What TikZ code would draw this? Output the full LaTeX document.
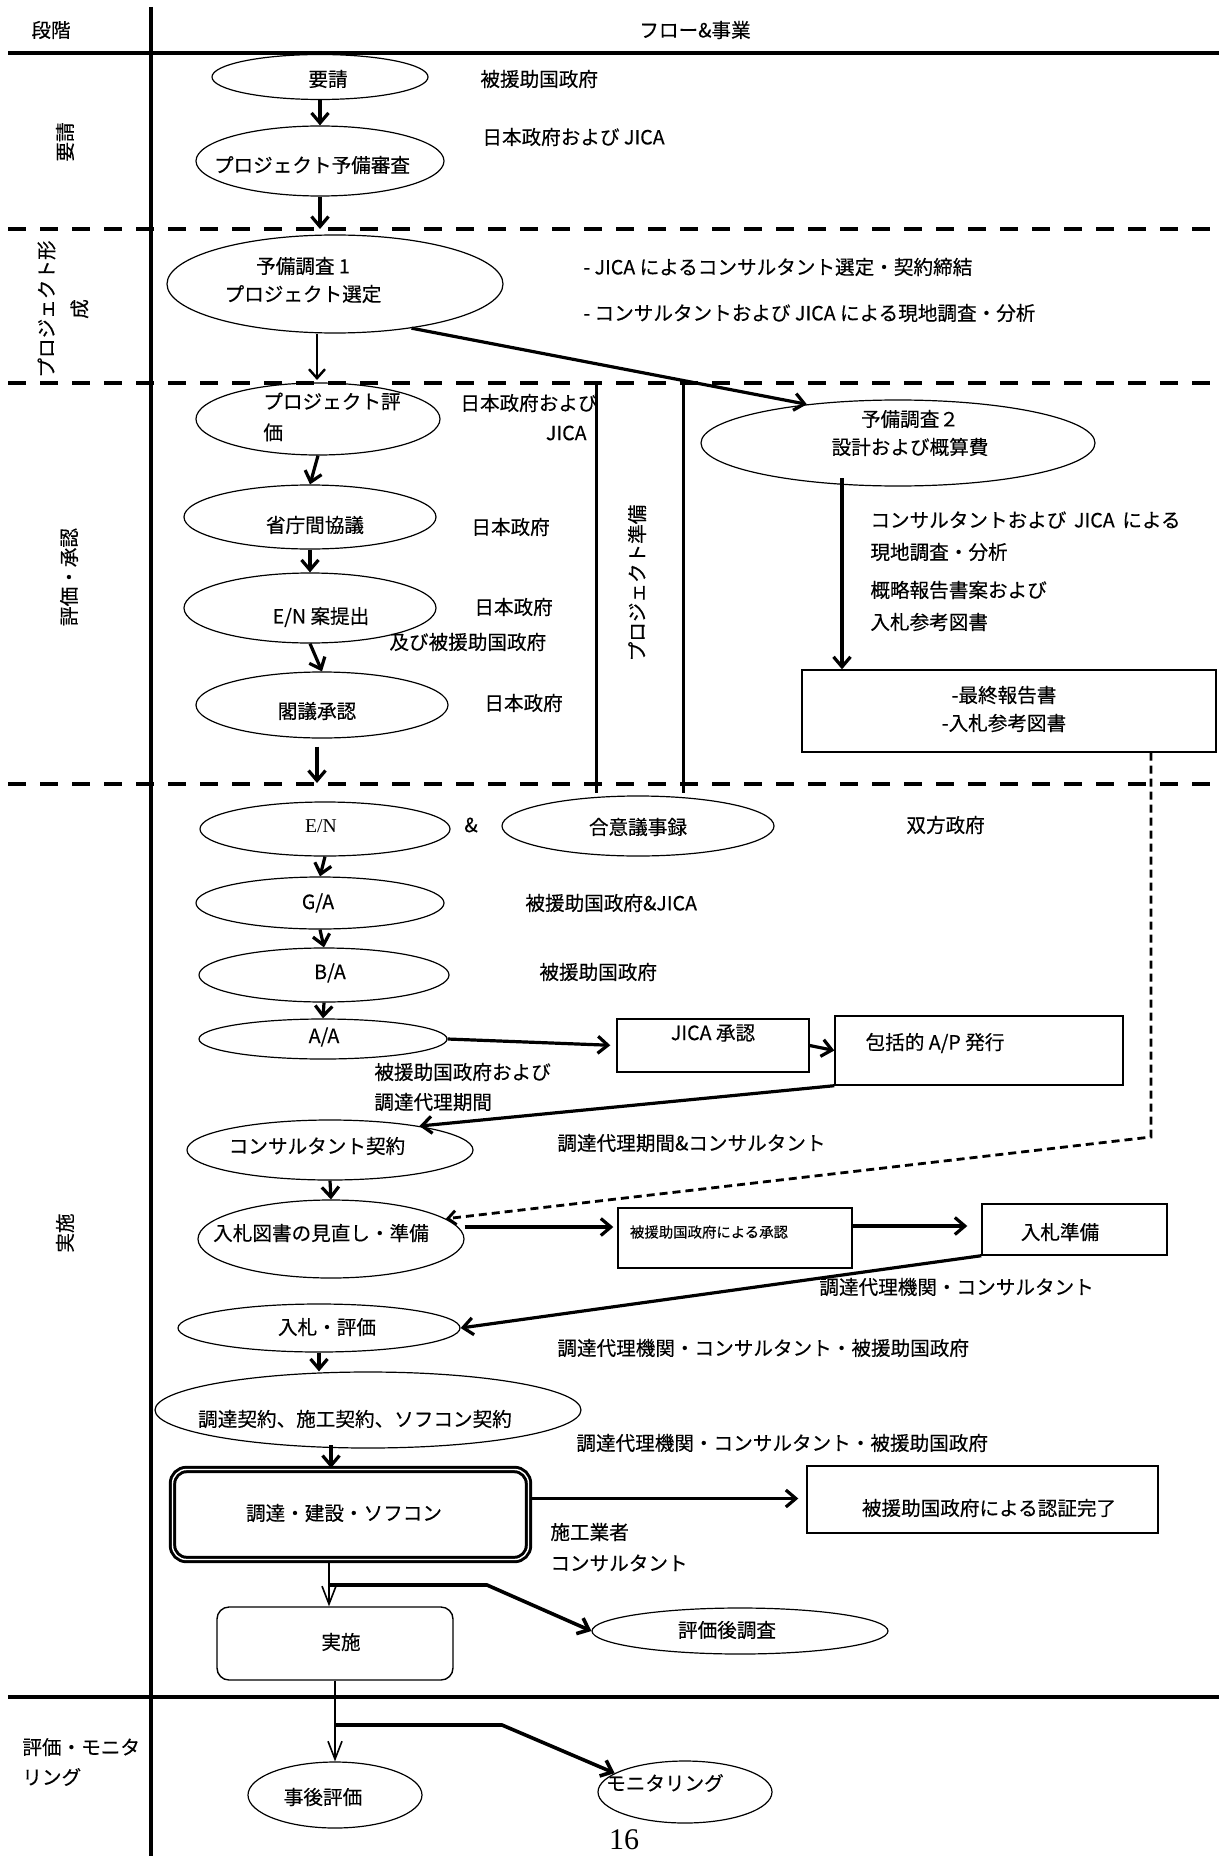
\documentclass[tikz,border=0pt]{standalone}
\usepackage{fontspec}
\setmainfont{Noto Sans CJK JP}[FakeBold=0.3]
\newfontfamily\tmsfont{Liberation Serif}
\usetikzlibrary{shapes.geometric,arrows.meta}
\newcommand{\flowell}[8]{%
  \node[ell,minimum width=#4pt,minimum height=#5pt] (#1) at (#2,#3) {};%
  \node (#1t) at (#6,#7) {#8};}
\newcommand{\flowbox}[9]{%
  \node[#9,minimum width=#4pt,minimum height=#5pt] (#1) at (#2,#3) {};%
  \node (#1t) at (#6,#7) {#8};}
\begin{document}
\begin{tikzpicture}[x=0.5pt,y=-0.5pt,
  every node/.style={font=\fontsize{9.8pt}{14pt}\selectfont, inner sep=0pt, align=center},
  ell/.style={draw, ellipse, line width=0.6pt},
  box/.style={draw, rectangle, line width=0.7pt},
  rbox/.style={draw, rectangle, rounded corners=6pt, line width=0.7pt},
  dbl/.style={draw, rectangle, rounded corners=7pt, line width=1.5pt, double, double distance=0.7pt},
  frame/.style={line width=1.6pt},
  sep/.style={line width=1.6pt, dash pattern=on 9pt off 7pt},
  band/.style={line width=1.5pt},
  arr/.style={line width=1.2pt, -{Straight Barb[length=4.5pt,width=8pt]}},
  tarr/.style={line width=1.6pt, -{Straight Barb[length=5pt,width=8.5pt]}},
  larr/.style={line width=1pt, -{Straight Barb[length=9pt,width=7pt,line width=0.8pt]}},
  tbr/.style={line width=1.8pt, -{Straight Barb[length=5pt,width=8.5pt]}},
  darr/.style={line width=1.4pt, dash pattern=on 4pt off 2.5pt, -{Straight Barb[length=4pt,width=7pt]}},
  lbl/.style={anchor=west},
  rot/.style={rotate=90}]
\useasboundingbox (0,0) rectangle (1219,1856);

% ---------- frame ----------
\coordinate (vt) at (151,7); \coordinate (vb) at (151,1856);
\draw[frame] (vt) -- (vb);
\coordinate (h0a) at (8,53); \coordinate (h0b) at (1219,53);
\draw[frame] (h0a) -- (h0b);
\coordinate (d1l) at (8,229); \coordinate (d1r) at (1219,229);
\draw[sep] (d1l) -- (d1r);
\coordinate (d2l) at (8,383); \coordinate (d2r) at (1219,383);
\draw[sep] (d2l) -- (d2r);
\coordinate (d3l) at (8,784); \coordinate (d3r) at (1219,784);
\draw[sep] (d3l) -- (d3r);
\coordinate (h4a) at (8,1697); \coordinate (h4b) at (1219,1697);
\draw[frame] (h4a) -- (h4b);

% ---------- headers and phases ----------
\node (hstage) at (51,30) {段階};
\node (hflow) at (695,30) {フロー\&事業};
\node[rot] (ph1) at (65,142) {要請};
\node[rot, font=\fontsize{9.8pt}{16.5pt}\selectfont] (ph2) at (63,309) {プロジェクト形\\成};
\node[rot] (ph3) at (69,577) {評価・承認};
\node[rot] (ph4) at (65,1233) {実施};
\node[anchor=west, align=left, font=\fontsize{9.8pt}{15pt}\selectfont] (ph5) at (22,1762) {評価・モニタ\\リング};

% ---------- request ----------
\flowell{yosei}{320}{77}{108}{22.5}{328}{79}{要請}
\flowell{shinsa}{320}{161}{124}{35}{312}{165}{プロジェクト予備審査}
\node[lbl] (l1) at (480,79) {被援助国政府};
\node[lbl] (l2) at (482,137) {日本政府および JICA};
\draw[tarr] (yosei.south) -- (shinsa.north);
\coordinate (d1a) at (320,229);
\draw[tarr] (shinsa.south) -- (d1a);

% ---------- formation ----------
\flowell{yc1}{335}{284}{168}{49}{303}{280}{予備調査 1\\プロジェクト選定}
\node[lbl] (l3) at (583,267) {- JICA によるコンサルタント選定・契約締結};
\node[lbl] (l4) at (583,313) {- コンサルタントおよび JICA による現地調査・分析};
\coordinate (d2a) at (317,380);
\draw[arr] (yc1.south -| d2a) -- (d2a);

% ---------- appraisal ----------
\flowell{yc2}{898}{443}{197}{43}{910}{433}{予備調査２\\設計および概算費}
\draw[tarr] (yc1.-30) -- (yc2.157);
\node[ell,minimum width=122pt,minimum height=36pt] (pe) at (318,419) {};
\node[anchor=west, align=left, font=\fontsize{9.8pt}{15.5pt}\selectfont] (pet) at (263,417) {プロジェクト評\\価};
\flowell{kyogi}{310}{517}{126}{32}{315}{525}{省庁間協議}
\flowell{enan}{310}{608}{126}{35}{321}{617}{E/N 案提出}
\flowell{kakugi}{322}{705}{126}{33}{317}{711}{閣議承認}
\draw[tarr] (pe.south) -- (kyogi.north);
\draw[tarr] (kyogi.south) -- (enan.north);
\draw[tarr] (enan.south) -- (kakugi.north);
\coordinate (d3a) at (317,783);
\draw[tarr, shorten <=4pt] (kakugi.south -| d3a) -- (d3a);
\node[lbl] (l5) at (460,403) {日本政府および};
\node[anchor=east] (l6) at (587,433) {JICA};
\node[lbl] (l7) at (471,527) {日本政府};
\node[lbl] (l8) at (474,607) {日本政府};
\node[lbl] (l9) at (389,642) {及び被援助国政府};
\node[lbl] (l10) at (484,703) {日本政府};

% project preparation band
\coordinate (pp1) at (596,383); \coordinate (pp1b) at (596,793);
\coordinate (pp2) at (683,383); \coordinate (pp2b) at (683,793);
\draw[band] (pp1) -- (pp1b);
\draw[band] (pp2) -- (pp2b);
\node[rot] (ppt) at (637,583) {プロジェクト準備};

% design branch
\flowbox{final}{1009}{711}{207}{41}{1004}{709}{-最終報告書\\-入札参考図書}{box}
\coordinate (a9top) at (842,478);
\draw[tarr] (a9top) -- (final.north -| a9top);
\node[lbl] (l11) at (870,520) {コンサルタントおよび\, JICA\, による};
\node[lbl] (l12) at (870,552) {現地調査・分析};
\node[lbl] (l13) at (870,590) {概略報告書案および};
\node[lbl] (l14) at (870,622) {入札参考図書};

% ---------- implementation ----------
\flowell{en}{325}{829}{125}{27}{321}{826}{\tmsfont E/N}
\node (amp) at (471,825) {\&};
\flowell{gouiy}{638}{826}{136}{30}{638}{827}{合意議事録}
\node[lbl] (l15) at (906,825) {双方政府};
\flowell{ga}{320}{903}{124}{26}{318}{903}{G/A}
\node[lbl] (l16) at (525,903) {被援助国政府\&JICA};
\flowell{ba}{324}{975}{125}{27}{330}{973}{B/A}
\node[lbl] (l17) at (539,972) {被援助国政府};
\flowell{aa}{323}{1039}{124}{20}{324}{1037}{A/A}
\draw[tarr] (en.south) -- (ga.north);
\draw[tarr] (ga.south) -- (ba.north);
\draw[tarr] (ba.south) -- (aa.north);

\flowbox{jica}{713}{1045.5}{96}{26.5}{713}{1033}{JICA 承認}{box}
\flowbox{hokatsu}{979}{1050.5}{144}{34.5}{935}{1043}{包括的 A/P 発行}{box}
\draw[tarr, shorten >=3pt] (aa.east) -- (jica.west);
\draw[tarr] (jica.east) -- (hokatsu.west);
\node[lbl] (l18) at (374,1072) {被援助国政府および};
\node[lbl] (l19) at (374,1102) {調達代理期間};

\flowell{kon}{330}{1150}{143}{30}{317}{1146}{コンサルタント契約}
\draw[tarr] (hokatsu.south west) -- (kon.15);
\node[lbl] (l20) at (557,1143) {調達代理期間\&コンサルタント};

\flowell{mina}{331}{1239}{133}{39}{321}{1233}{入札図書の見直し・準備}
\draw[tarr] (kon.south) -- (mina.north);
\coordinate (dc) at (1151,1137);
\draw[darr] (final.south -| dc) -- (dc) -- (mina.10);

\flowbox{shonin}{735}{1238}{117}{30}{709}{1232}{\fontsize{7.2pt}{9pt}\selectfont 被援助国政府による承認}{box}
\flowbox{nyujun}{1074.5}{1229.5}{92.5}{25.5}{1060}{1232}{入札準備}{box}
\coordinate (s17) at ([yshift=6pt]mina.east);
\draw[tarr, shorten >=2pt] (s17) -- (s17 -| shonin.west);
\coordinate (s18) at ([yshift=6pt]shonin.east);
\draw[tarr, shorten >=7pt] (s18) -- (s18 -| nyujun.west);

\flowell{nh}{319}{1328}{141}{24}{327}{1327}{入札・評価}
\draw[tarr] (nyujun.south west) -- (nh.east);
\node[lbl] (l21) at (819,1287) {調達代理機関・コンサルタント};
\node[lbl] (l22) at (557,1348) {調達代理機関・コンサルタント・被援助国政府};

\flowell{keiyaku}{368}{1410}{213}{38}{355}{1419}{調達契約、施工契約、ソフコン契約}
\draw[tarr] (nh.south) -- (nh.south |- keiyaku.north);
\node[lbl] (l23) at (576,1443) {調達代理機関・コンサルタント・被援助国政府};

\flowbox{chotatsu}{350.5}{1514.5}{178}{45}{344}{1513}{調達・建設・ソフコン}{dbl}
\coordinate (c21) at (331,1445);
\draw[tarr] (c21) -- (c21 |- chotatsu.north);
\flowbox{ninsho}{982.5}{1499.5}{175.5}{33.5}{989}{1508}{被援助国政府による認証完了}{box}
\coordinate (s22) at ([yshift=8pt]chotatsu.east);
\draw[tarr, shorten >=4pt] (s22) -- (s22 -| ninsho.west);
\node[lbl] (l24) at (550,1532) {施工業者};
\node[lbl] (l25) at (550,1563) {コンサルタント};

\flowbox{jisshi}{335}{1643.5}{118}{36.5}{341}{1642}{実施}{rbox}
\flowell{hyoka}{740}{1631}{148}{23}{727}{1630}{評価後調査}
\coordinate (c23) at (329,1585);
\coordinate (c23k) at (487,1585);
\draw[larr] (c23 |- chotatsu.south) -- (c23 |- jisshi.north);
\draw[tbr] (c23) -- (c23k) -- (hyoka.west);

% ---------- evaluation & monitoring ----------
\flowell{jigo}{335}{1795}{87}{33}{323}{1797}{事後評価}
\flowell{mon}{685}{1792}{87}{31}{665}{1783}{モニタリング}
\coordinate (c24) at (335,1725);
\coordinate (c24k) at (502,1725);
\draw[larr] (jisshi.south) -- (jigo.north);
\draw[tbr] (c24) -- (c24k) -- (mon.165);
\node (page) at (624,1840) {\tmsfont\fontsize{15pt}{18pt}\selectfont 16};
\end{tikzpicture}
\end{document}
